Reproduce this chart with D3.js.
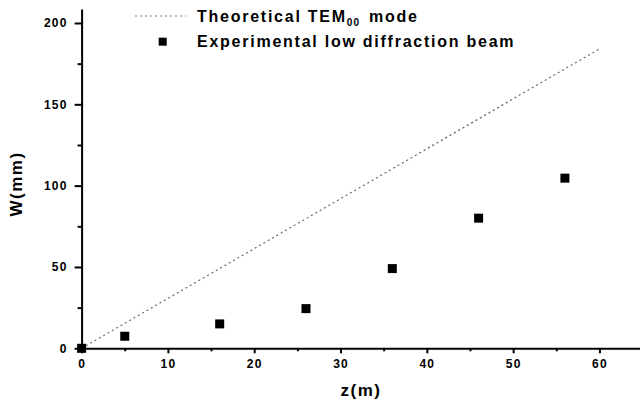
<!DOCTYPE html>
<html>
<head>
<meta charset="utf-8">
<script src="https://cdn.jsdelivr.net/npm/d3@7/dist/d3.min.js"></script>
<style>
  html, body { margin: 0; padding: 0; background: #fff; }
  svg { display: block; }
  text { font-family: "Liberation Sans", Arial, sans-serif; fill: #000; }
</style>
</head>
<body>
<svg id="chart" width="640" height="402"></svg>
<script>
// Beam width W versus propagation distance z
const expZ = [0, 5, 16, 26, 36, 46, 56];
const expW = [0, 7.4, 15, 24.4, 49, 80, 104.6];
const theoZ = [0, 60];
const theoW = [0, 184];
const xTicks = [0, 10, 20, 30, 40, 50, 60];
const xMinor = [5, 15, 25, 35, 45, 55];
const yTicks = [0, 50, 100, 150, 200];
const yMinor = [25, 75, 125, 175];
const legendLabels = ["Theoretical TEM", "Experimental low diffraction beam"];

const svg = d3.select("#chart");
const x = d3.scaleLinear().domain([0, 64.7]).range([81.6, 640]);
const y = d3.scaleLinear().domain([0, 208.6]).range([348.3, 9]);

// Theoretical line
svg.append("path")
  .datum(theoZ.map((z, i) => [z, theoW[i]]))
  .attr("fill", "none")
  .attr("stroke", "#666")
  .attr("stroke-width", 1.2)
  .attr("stroke-dasharray", "2,3")
  .attr("d", d3.line().x(d => x(d[0])).y(d => y(d[1])));

// Axes
function styleAxis(g) {
  g.select(".domain").attr("stroke", "#000").attr("stroke-width", 2);
  g.selectAll(".tick line").attr("stroke", "#000").attr("stroke-width", 2);
  g.selectAll(".tick text")
    .style("font-size", "12px")
    .style("font-weight", "bold")
    .style("letter-spacing", "1.2px");
}

const xAxis = svg.append("g").attr("transform", `translate(0,${y(0)})`)
  .call(d3.axisBottom(x).tickValues(xTicks).tickSize(5).tickPadding(6).tickSizeOuter(0));
styleAxis(xAxis);
const xAxisMinor = svg.append("g").attr("transform", `translate(0,${y(0)})`)
  .call(d3.axisBottom(x).tickValues(xMinor).tickSize(3).tickFormat("").tickSizeOuter(0));
styleAxis(xAxisMinor);
xAxisMinor.select(".domain").remove();

const yAxis = svg.append("g").attr("transform", `translate(${x(0)},0)`)
  .call(d3.axisLeft(y).tickValues(yTicks).tickSize(7).tickPadding(7).tickSizeOuter(0));
styleAxis(yAxis);
const yAxisMinor = svg.append("g").attr("transform", `translate(${x(0)},0)`)
  .call(d3.axisLeft(y).tickValues(yMinor).tickSize(4).tickFormat("").tickSizeOuter(0));
styleAxis(yAxisMinor);
yAxisMinor.select(".domain").remove();

// Axis titles
svg.append("text")
  .attr("x", 361).attr("y", 396)
  .attr("text-anchor", "middle")
  .style("font-size", "17px").style("font-weight", "bold").style("letter-spacing", "1.5px")
  .text("z(m)");
svg.append("text")
  .attr("transform", "translate(22,184) rotate(-90)")
  .attr("text-anchor", "middle")
  .style("font-size", "17px").style("font-weight", "bold").style("letter-spacing", "1.5px")
  .text("W(mm)");

// Experimental points
const sq = 9;
svg.append("g").selectAll("rect")
  .data(expZ.map((z, i) => [z, expW[i]]))
  .join("rect")
  .attr("x", d => x(d[0]) - sq / 2)
  .attr("y", d => y(d[1]) - sq / 2)
  .attr("width", sq).attr("height", sq)
  .attr("fill", "#000");

// Legend
const lg = svg.append("g");
lg.append("line")
  .attr("x1", 135).attr("x2", 186).attr("y1", 16).attr("y2", 16)
  .attr("stroke", "#777").attr("stroke-width", 1.2).attr("stroke-dasharray", "2,3");
const t1 = lg.append("text").attr("x", 197).attr("y", 22)
  .style("font-size", "16px").style("font-weight", "bold").style("letter-spacing", "1.75px");
t1.append("tspan").text(legendLabels[0]);
t1.append("tspan").attr("dy", 4).style("font-size", "10px").style("letter-spacing", "1px").text("00");
t1.append("tspan").attr("dy", -4).attr("dx", 9).text("mode");
lg.append("rect").attr("x", 162.7 - 4).attr("y", 41.7 - 4).attr("width", 8).attr("height", 8).attr("fill", "#000");
lg.append("text").attr("x", 197).attr("y", 47)
  .style("font-size", "16px").style("font-weight", "bold").style("letter-spacing", "1.75px")
  .text(legendLabels[1]);
</script>
</body>
</html>
